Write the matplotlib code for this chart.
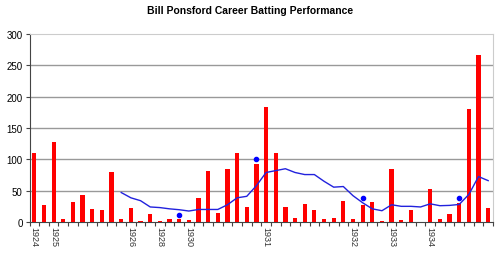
#!/usr/bin/env python3
"""Bill Ponsford career batting performance: runs per innings with rolling average."""

import matplotlib
matplotlib.use("Agg")
import matplotlib.pyplot as plt
import numpy as np

plt.rcParams["font.family"] = ["Liberation Sans", "DejaVu Sans"]

# Runs per innings
runs = [110, 27, 128, 4, 32, 43, 21, 19, 80, 5,
        23, 2, 12, 2, 5, 5, 3, 38, 81, 14,
        84, 110, 24, 92, 184, 110, 24, 7, 28, 19,
        5, 7, 34, 5, 27, 32, 1.6, 85, 3, 19,
        0, 52, 5, 12, 30, 181, 267, 22]

# Rolling average line (starts at innings index 9)
avg_start = 9
avg = [47, 38.6, 34, 24, 23, 21, 19.6, 17.5, 20, 20,
       20, 27.5, 38.6, 41, 58, 79, 82, 85, 79, 75.7,
       75.7, 65, 55.6, 56.6, 42, 30.7, 21, 18, 27.5, 25,
       25, 24, 29, 26, 26.5, 28, 44, 72.5, 66]

# Not-out markers
dot_idx = [15, 23, 34, 44]
dot_val = [11, 100, 38.6, 38.6]

# Year labels
year_idx = [0, 2, 10, 13, 16, 24, 33, 37, 41]
year_lab = ["1924", "1925", "1926", "1928", "1930", "1931", "1932", "1933", "1934"]


def main() -> None:
    fig = plt.figure(figsize=(5.0, 2.55), dpi=100)
    ax = fig.add_axes([0.059, 0.1255, 0.927, 0.7372])

    x = np.arange(len(runs))
    ax.bar(x, runs, width=0.44, color="#ff0000", zorder=3)

    xa = np.arange(avg_start, avg_start + len(avg))
    ax.plot(xa, avg, color="#2222dd", lw=1.0, zorder=4)
    ax.scatter(dot_idx, dot_val, s=9, color="#0000ff", zorder=5)

    ax.set_xlim(-0.5, len(runs) - 0.5)
    ax.set_ylim(0, 300)
    ax.set_yticks(np.arange(0, 301, 50))
    # grid lines between 0 and the top border
    for yv in range(50, 300, 50):
        ax.axhline(yv, color="#999999", lw=1.0, zorder=0)
    ax.tick_params(axis="y", labelsize=7, length=3, width=0.8, color="#444444", pad=2)

    ax.set_xticks(year_idx)
    ax.set_xticklabels(year_lab, rotation=-90, fontsize=6.5, color="#333333")
    ax.set_xticks(np.arange(-0.5, len(runs), 1.0), minor=True)
    ax.tick_params(axis="x", which="major", length=0, pad=3)
    ax.tick_params(axis="x", which="minor", length=3, width=0.8, color="#444444")

    for side in ("top", "right"):
        ax.spines[side].set_color("#cccccc")
        ax.spines[side].set_linewidth(0.8)
    for side in ("left", "bottom"):
        ax.spines[side].set_color("#444444")
        ax.spines[side].set_linewidth(0.8)

    fig.text(0.5, 0.975, "Bill Ponsford Career Batting Performance",
             ha="center", va="top", fontsize=7.5, fontweight="bold")

    fig.savefig("out.png", dpi=100)


if __name__ == "__main__":
    main()
